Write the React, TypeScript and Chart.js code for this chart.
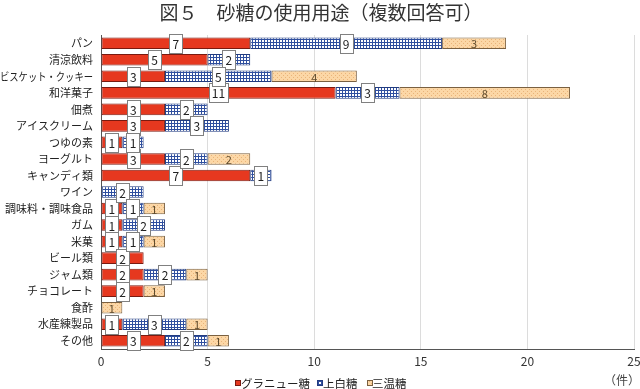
import React, { useEffect, useRef } from "react";
import { Chart, registerables } from "chart.js";

Chart.register(...registerables);

const titleText = "図５　砂糖の使用用途（複数回答可）";
const unitText = "（件）";
const categories = [
  "パン",
  "清涼飲料",
  "ビスケット・クッキー",
  "和洋菓子",
  "佃煮",
  "アイスクリーム",
  "つゆの素",
  "ヨーグルト",
  "キャンディ類",
  "ワイン",
  "調味料・調味食品",
  "ガム",
  "米菓",
  "ビール類",
  "ジャム類",
  "チョコレート",
  "食酢",
  "水産練製品",
  "その他",
];
const seriesNames = ["グラニュー糖", "上白糖", "三温糖"];
const granulated = [7, 5, 3, 11, 3, 3, 1, 3, 7, 0, 1, 1, 1, 2, 2, 2, 0, 1, 3];
const joHakuto = [9, 2, 5, 3, 2, 3, 1, 2, 1, 2, 1, 2, 1, 0, 2, 0, 0, 3, 2];
const sanonto = [3, 0, 4, 8, 0, 0, 0, 2, 0, 0, 1, 0, 1, 0, 1, 1, 1, 1, 1];
const xMin = 0;
const xMax = 25;
const xStep = 5;

const FONT = "'Noto Sans CJK JP', 'Noto Sans', sans-serif";

function makeBluePattern(ctx: CanvasRenderingContext2D) {
  const c = document.createElement("canvas");
  c.width = 3;
  c.height = 3;
  const g = c.getContext("2d")!;
  g.fillStyle = "#ffffff";
  g.fillRect(0, 0, 3, 3);
  g.fillStyle = "#2f4f9f";
  g.fillRect(0, 0, 3, 1);
  g.fillRect(0, 0, 1, 3);
  return ctx.createPattern(c, "repeat")!;
}

function makeOrangePattern(ctx: CanvasRenderingContext2D) {
  const c = document.createElement("canvas");
  c.width = 4;
  c.height = 4;
  const g = c.getContext("2d")!;
  g.fillStyle = "#fcd7a6";
  g.fillRect(0, 0, 4, 4);
  g.fillStyle = "#e9b47a";
  g.fillRect(1, 1, 1, 1);
  g.fillRect(3, 3, 1, 1);
  return ctx.createPattern(c, "repeat")!;
}

const labelPlugin = {
  id: "segLabels",
  afterDatasetsDraw(chart: any) {
    const ctx = chart.ctx as CanvasRenderingContext2D;
    ctx.save();
    ctx.textAlign = "center";
    ctx.textBaseline = "middle";
    chart.data.datasets.forEach((ds: any, di: number) => {
      const meta = chart.getDatasetMeta(di);
      meta.data.forEach((el: any, i: number) => {
        const v = ds.data[i];
        if (!v) return;
        const cx = (el.x + el.base) / 2;
        const cy = el.y;
        const txt = String(v);
        if (di < 2) {
          ctx.font = `12px ${FONT}`;
          const w = Math.round(ctx.measureText(txt).width) + 6;
          const h = 19;
          const x0 = Math.round(cx - w / 2) + 0.5;
          const y0 = Math.round(cy - h / 2) + 0.5;
          ctx.fillStyle = "#ffffff";
          ctx.fillRect(x0, y0, w, h);
          ctx.strokeStyle = "#808080";
          ctx.lineWidth = 1;
          ctx.strokeRect(x0, y0, w, h);
          ctx.fillStyle = "#222222";
          ctx.fillText(txt, cx, cy + 1);
        } else {
          ctx.font = `11px ${FONT}`;
          ctx.fillStyle = "#5e4a2c";
          ctx.fillText(txt, cx, cy + 1);
        }
      });
    });
    ctx.restore();
  },
};

const legendPos = [
  { mx: 235, tx: 241 },
  { mx: 317, tx: 323 },
  { mx: 367, tx: 372 },
];

const decorPlugin = {
  id: "decor",
  afterDraw(chart: any) {
    const ctx = chart.ctx as CanvasRenderingContext2D;
    ctx.save();
    // title
    ctx.fillStyle = "#333333";
    ctx.font = `19px ${FONT}`;
    ctx.textAlign = "center";
    ctx.textBaseline = "middle";
    ctx.fillText(titleText, 321, 13);
    // category labels
    const yScale = chart.scales.y;
    ctx.font = `11px ${FONT}`;
    ctx.fillStyle = "#222222";
    ctx.textAlign = "right";
    chart.data.labels.forEach((lab: string, i: number) => {
      const y = yScale.getPixelForValue(i);
      ctx.fillText(lab, 93, y, 93);
    });
    // legend
    const ly = 383;
    chart.data.datasets.forEach((ds: any, i: number) => {
      const p = legendPos[i];
      ctx.fillStyle = ds.backgroundColor;
      ctx.fillRect(p.mx, ly - 3, 6, 6);
      ctx.strokeStyle = ds.borderColor;
      ctx.lineWidth = 1;
      ctx.strokeRect(p.mx + 0.5, ly - 2.5, 5, 5);
      ctx.fillStyle = "#222222";
      ctx.textAlign = "left";
      ctx.font = `11.5px ${FONT}`;
      ctx.fillText(ds.label, p.tx, ly + 1);
    });
    // unit
    ctx.font = `12px ${FONT}`;
    ctx.fillStyle = "#444444";
    ctx.textAlign = "center";
    ctx.fillText(unitText, 622, 380);
    ctx.restore();
  },
};

export default function App() {
  const ref = useRef<HTMLCanvasElement>(null);
  useEffect(() => {
    document.body.style.margin = "0";
    const canvas = ref.current!;
    const ctx = canvas.getContext("2d")!;
    const blue = makeBluePattern(ctx);
    const orange = makeOrangePattern(ctx);
    const common = {
      borderWidth: 1,
      borderSkipped: false,
      barPercentage: 0.9,
      categoryPercentage: 0.78,
    };
    const chart = new Chart(canvas, {
      type: "bar",
      data: {
        labels: categories,
        datasets: [
          {
            label: seriesNames[0],
            data: granulated,
            backgroundColor: "#e6381f",
            borderColor: "#7a1a10",
            ...common,
          },
          {
            label: seriesNames[1],
            data: joHakuto,
            backgroundColor: blue,
            borderColor: "#223c80",
            ...common,
          },
          {
            label: seriesNames[2],
            data: sanonto,
            backgroundColor: orange,
            borderColor: "#7a6040",
            ...common,
          },
        ],
      } as any,
      options: {
        indexAxis: "y",
        responsive: false,
        animation: false,
        layout: { padding: { top: 35, right: 6, left: 0, bottom: 10 } },
        plugins: {
          title: { display: false },
          tooltip: { enabled: false },
          legend: { display: false },
        },
        scales: {
          x: {
            stacked: true,
            min: xMin,
            max: xMax,
            ticks: {
              stepSize: xStep,
              color: "#333",
              font: { family: FONT, size: 12 },
              padding: 5,
            },
            grid: { color: "#dcdcdc", drawTicks: false },
            border: { display: true, color: "#555" },
            afterFit: (s: any) => {
              s.height = 30;
              s.paddingLeft = 0;
              s.paddingRight = 0;
            },
          },
          y: {
            stacked: true,
            ticks: {
              display: false,
              autoSkip: false,
            },
            grid: { display: false, drawTicks: false },
            border: { display: true, color: "#555" },
            afterFit: (s: any) => {
              s.width = 101;
            },
          },
        },
      } as any,
      plugins: [labelPlugin, decorPlugin],
    });
    return () => chart.destroy();
  }, []);
  return (
    <div style={{ width: 640, height: 389 }}>
      <canvas ref={ref} width={640} height={389} />
    </div>
  );
}
